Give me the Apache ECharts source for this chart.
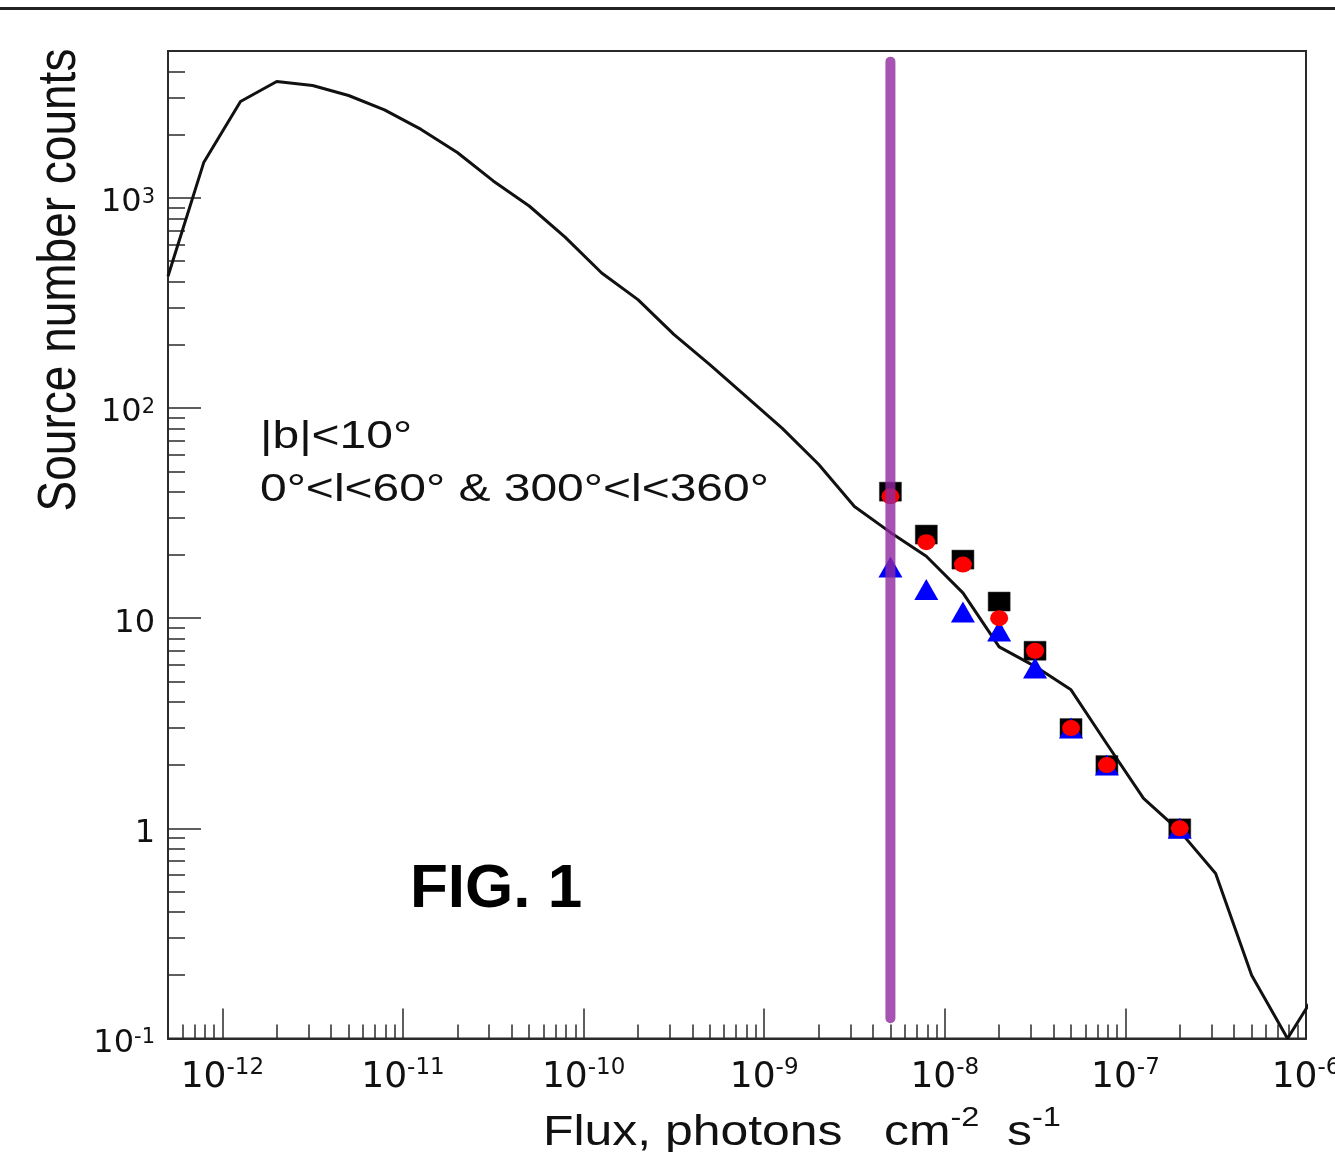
<!DOCTYPE html>
<html>
<head>
<meta charset="utf-8">
<script src="https://cdn.jsdelivr.net/npm/echarts@6/dist/echarts.min.js"></script>
<style>
html,body{margin:0;padding:0;background:#fff;}
#chart{width:1335px;height:1152px;}
</style>
</head>
<body>
<div id="chart"></div>
<script>
// ---- data ----
const curveFlux = [5.0e-13, 7.9e-13, 1.26e-12, 2.0e-12, 3.16e-12, 5.0e-12, 7.9e-12, 1.26e-11, 2.0e-11, 3.16e-11,
  5.0e-11, 7.9e-11, 1.26e-10, 2.0e-10, 3.16e-10, 5.0e-10, 7.9e-10, 1.26e-9, 2.0e-9, 3.16e-9,
  5.0e-9, 7.9e-9, 1.26e-8, 2.0e-8, 3.16e-8, 5.0e-8, 7.9e-8, 1.26e-7, 2.0e-7, 3.16e-7,
  5.0e-7, 7.9e-7, 1.26e-6];
const curveCounts = [424, 1479, 2875, 3582, 3428, 3070, 2624, 2118, 1645, 1204,
  915, 651, 439, 328, 224, 161, 114, 80, 54, 34,
  25.6, 19.7, 13.2, 7.3, 5.9, 4.56, 2.52, 1.39, 0.97, 0.61,
  0.20, 0.1, 0.19];

const pointFlux = [5.0e-9, 7.9e-9, 1.26e-8, 2.0e-8, 3.16e-8, 5.0e-8, 7.9e-8, 2.0e-7];
const squareCounts = [40, 25, 19, 12, 7, 3, 2, 1];
const circleCounts = [38, 23, 18, 10, 7, 3, 2, 1];
const triangleCounts = [17.5, 13.7, 10.7, 8.7, 5.8, 3, 2, 1];

const thresholdFlux = 5e-9;
const thresholdCounts = [0.125, 4450];

const xMin = 5e-13, xMax = 1e-6;
const yMin = 0.1, yMax = 5000;
const xMajorTicks = [1e-12, 1e-11, 1e-10, 1e-9, 1e-8, 1e-7, 1e-6];
const xTickLabels = ['10{s|-12}', '10{s|-11}', '10{s|-10}', '10{s|-9}', '10{s|-8}', '10{s|-7}', '10{s|-6}'];
const yMajorTicks = [0.1, 1, 10, 100, 1000];
const yTickLabels = ['10{s|-1}', '1', '10', '10{s|2}', '10{s|3}'];

// minor tick positions (2..9 x 10^n)
const xMinorTicks = [];
for (let e = -13; e <= -7; e++) for (let m = 2; m <= 9; m++) {
  const v = m * Math.pow(10, e);
  if (v > xMin * 1.0001 && v < xMax * 0.9999) xMinorTicks.push(v);
}
const yMinorTicks = [];
for (let e = -1; e <= 3; e++) for (let m = 2; m <= 9; m++) {
  const v = m * Math.pow(10, e);
  if (v > yMin * 1.0001 && v < yMax * 0.9999) yMinorTicks.push(v);
}

function lookupLabel(ticks, labels, v) {
  const lv = Math.log10(v);
  for (let i = 0; i < ticks.length; i++) {
    if (Math.abs(Math.log10(ticks[i]) - lv) < 1e-6) return labels[i];
  }
  return '';
}

const axisColor = '#2a2a2a';
const labelFont = 'DejaVu Sans';
const textFont = 'Liberation Sans';

const chart = echarts.init(document.getElementById('chart'), null, {renderer: 'canvas'});

const option = {
  animation: false,
  backgroundColor: '#ffffff',
  grid: {
    left: 168, right: 29, top: 51, bottom: 113.5,
    containLabel: false, outerBoundsMode: 'none',
    show: true, borderColor: axisColor, borderWidth: 2, backgroundColor: 'transparent'
  },
  xAxis: [
    {
      type: 'log', logBase: 10, min: xMin, max: xMax, position: 'bottom',
      axisLine: {show: true, onZero: false, lineStyle: {color: axisColor, width: 2}},
      axisTick: {show: true, inside: true, length: 30, customValues: xMajorTicks, lineStyle: {color: axisColor, width: 1.5}},
      minorTick: {show: false},
      splitLine: {show: false},
      axisLabel: {
        show: true, customValues: xMajorTicks, margin: 18, hideOverlap: false,
        formatter: v => lookupLabel(xMajorTicks, xTickLabels, v),
        fontFamily: labelFont, fontSize: 36, color: '#111', lineHeight: 42,
        rich: {
          s: {fontFamily: labelFont, fontSize: 23, color: '#111', lineHeight: 16, verticalAlign: 'top'}
        }
      }
    },
    {
      type: 'log', logBase: 10, min: xMin, max: xMax, position: 'bottom',
      axisLine: {show: false},
      axisTick: {show: true, inside: true, length: 14, customValues: xMinorTicks, lineStyle: {color: axisColor, width: 1.5}},
      splitLine: {show: false},
      axisLabel: {show: false}
    }
  ],
  yAxis: [
    {
      type: 'log', logBase: 10, min: yMin, max: yMax, position: 'left',
      axisLine: {show: true, onZero: false, lineStyle: {color: axisColor, width: 2}},
      axisTick: {show: true, inside: true, length: 33, customValues: yMajorTicks, lineStyle: {color: axisColor, width: 1.5}},
      splitLine: {show: false},
      axisLabel: {
        show: true, customValues: yMajorTicks, margin: 13, hideOverlap: false,
        formatter: v => lookupLabel(yMajorTicks, yTickLabels, v),
        fontFamily: labelFont, fontSize: 32, color: '#111', lineHeight: 32,
        padding: [10, 0, 0, 0],
        rich: {
          s: {fontFamily: labelFont, fontSize: 21, color: '#111', lineHeight: 10, verticalAlign: 'top'}
        }
      }
    },
    {
      type: 'log', logBase: 10, min: yMin, max: yMax, position: 'left',
      axisLine: {show: false},
      axisTick: {show: true, inside: true, length: 17, customValues: yMinorTicks, lineStyle: {color: axisColor, width: 1.5}},
      splitLine: {show: false},
      axisLabel: {show: false}
    }
  ],
  series: [
    {
      name: 'model', type: 'line', xAxisIndex: 0, yAxisIndex: 0,
      data: curveFlux.map((f, i) => [f, curveCounts[i]]),
      symbol: 'none', clip: true, z: 2,
      lineStyle: {color: '#111', width: 3}
    },
    {
      name: 'squares', type: 'scatter', xAxisIndex: 0, yAxisIndex: 0,
      data: pointFlux.map((f, i) => [f, squareCounts[i]]),
      symbol: 'rect', symbolSize: [22, 19], z: 3,
      itemStyle: {color: '#000', opacity: 1, borderColor: '#222', borderWidth: 0.5}
    },
    {
      name: 'triangles', type: 'scatter', xAxisIndex: 0, yAxisIndex: 0,
      data: pointFlux.map((f, i) => [f, triangleCounts[i]]),
      symbol: 'triangle', symbolSize: [24, 21], z: 4,
      itemStyle: {color: '#0000ff', opacity: 1}
    },
    {
      name: 'circles', type: 'scatter', xAxisIndex: 0, yAxisIndex: 0,
      data: pointFlux.map((f, i) => [f, circleCounts[i]]),
      symbol: 'circle', symbolSize: [18, 16], z: 5,
      itemStyle: {color: '#ff0000', opacity: 1}
    },
    {
      name: 'threshold', type: 'line', xAxisIndex: 0, yAxisIndex: 0,
      data: [[thresholdFlux, thresholdCounts[0]], [thresholdFlux, thresholdCounts[1]]],
      symbol: 'none', z: 6,
      lineStyle: {color: '#8e2a9e', width: 10, opacity: 0.8, cap: 'round'}
    }
  ],
  graphic: [
    {
      type: 'line', shape: {x1: 0, y1: 8.5, x2: 1335, y2: 8.5},
      style: {stroke: '#222', lineWidth: 3}
    },
    {
      type: 'text', x: 60, y: 280, rotation: Math.PI / 2, scaleY: 1.17,
      style: {
        text: 'Source number counts', fontFamily: textFont, fontSize: 46, fill: '#111',
        textAlign: 'center', textVerticalAlign: 'middle', align: 'center', verticalAlign: 'middle'
      }
    },
    {
      type: 'text', x: 543, y: 1104.5, scaleX: 1.16,
      style: {
        text: '{b|Flux, photons   cm}{s|-2}{b|  s}{s|-1}',
        textAlign: 'left', textVerticalAlign: 'top', align: 'left', verticalAlign: 'top',
        rich: {
          b: {fontFamily: textFont, fontSize: 43, fill: '#111', lineHeight: 50, verticalAlign: 'bottom'},
          s: {fontFamily: textFont, fontSize: 28, fill: '#111', lineHeight: 24, verticalAlign: 'top'}
        }
      }
    },
    {
      type: 'text', x: 260, y: 410.5, scaleX: 1.23,
      style: {
        text: '|b|<10°\n0°<l<60° & 300°<l<360°',
        fontFamily: textFont, fontSize: 39, lineHeight: 53, fill: '#111',
        textAlign: 'left', textVerticalAlign: 'top', align: 'left', verticalAlign: 'top'
      }
    },
    {
      type: 'text', x: 410, y: 890,
      style: {
        text: 'FIG. 1', fontFamily: textFont, fontWeight: 'bold', fontSize: 62, fill: '#000',
        textAlign: 'left', textVerticalAlign: 'middle', align: 'left', verticalAlign: 'middle'
      }
    }
  ]
};
chart.setOption(option);
</script>
</body>
</html>
